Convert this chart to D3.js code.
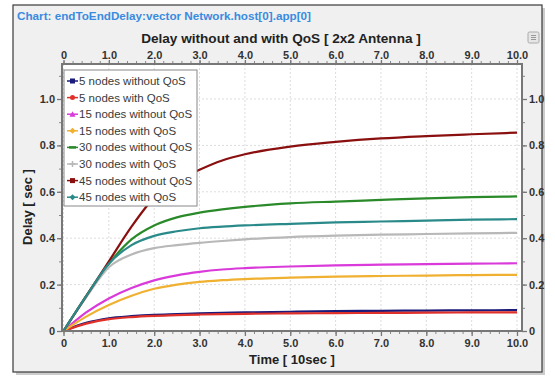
<!DOCTYPE html>
<html><head><meta charset="utf-8">
<script src="https://cdn.jsdelivr.net/npm/d3@7"></script>
<style>body{margin:0;background:#fff;}svg{display:block;font-family:"Liberation Sans",Arial,sans-serif;}</style>
</head><body><svg id="c" width="555" height="376"></svg>
<script>
const xs = [0,0.5,1,1.5,2,2.5,3,3.5,4,5,6,7,8,9,10];
const seriesNames = ["5 nodes without QoS","5 nodes with QoS","15 nodes without QoS","15 nodes with QoS","30 nodes without QoS","30 nodes with QoS","45 nodes without QoS","45 nodes with QoS"];
const seriesColors = ["#1a1a7a","#e0302a","#d93ad9","#f0b030","#2a8a2a","#b8b8b8","#8a1010","#2a8a8a"];
const seriesMarkers = ["square","circle","triangle","diamond","minus","plus","square","diamond"];
const n5without  = [0,0.035,0.055,0.064,0.07,0.073,0.076,0.078,0.08,0.083,0.086,0.087,0.088,0.089,0.09];
const n5with     = [0,0.032,0.051,0.06,0.065,0.068,0.071,0.073,0.074,0.076,0.077,0.078,0.079,0.08,0.08];
const n15without = [0,0.08,0.14,0.185,0.218,0.24,0.255,0.265,0.271,0.278,0.283,0.286,0.288,0.29,0.292];
const n15with    = [0,0.062,0.112,0.152,0.182,0.2,0.212,0.219,0.224,0.23,0.234,0.237,0.239,0.241,0.242];
const n30without = [0,0.15,0.29,0.395,0.455,0.49,0.51,0.524,0.535,0.55,0.558,0.565,0.572,0.577,0.58];
const n30with    = [0,0.145,0.275,0.33,0.357,0.37,0.38,0.388,0.395,0.405,0.411,0.415,0.418,0.421,0.423];
const n45without = [0,0.15,0.30,0.45,0.575,0.645,0.695,0.735,0.762,0.795,0.815,0.83,0.84,0.848,0.855];
const n45with    = [0,0.15,0.29,0.37,0.41,0.43,0.443,0.45,0.455,0.462,0.468,0.472,0.476,0.48,0.482];
const seriesValues = [n5without,n5with,n15without,n15with,n30without,n30with,n45without,n45with];
const xTicks = [0,1,2,3,4,5,6,7,8,9,10];
const xTickLabels = ["0","1.0","2.0","3.0","4.0","5.0","6.0","7.0","8.0","9.0","10.0"];
const yTicks = [0,0.2,0.4,0.6,0.8,1.0];
const yTickLabels = ["0","0.2","0.4","0.6","0.8","1.0"];
const panelTitle = "Chart: endToEndDelay:vector Network.host[0].app[0]";
const chartTitle = "Delay without and with QoS [ 2x2 Antenna ]";
const xTitle = "Time [ 10sec ]";
const yTitle = "Delay [ sec ]";

const svg = d3.select("#c");
// panel
svg.append("rect").attr("x",16).attr("y",8).attr("width",529).attr("height",367).attr("fill","#9a9a9a").attr("opacity",0.5);
svg.append("rect").attr("x",13).attr("y",5).attr("width",529).attr("height",367).attr("fill","#f0f0f0").attr("stroke","#3a3a3a").attr("stroke-width",1.2);
svg.append("text").attr("x",17).attr("y",20).attr("font-size",11.7).attr("font-weight","bold").attr("fill","#3a8be0").text(panelTitle);
svg.append("text").attr("x",281).attr("y",43).attr("text-anchor","middle").attr("font-size",13.6).attr("font-weight","bold").attr("fill","#222").text(chartTitle);
// icon
const ic = svg.append("g");
ic.append("rect").attr("x",528).attr("y",32).attr("width",11).attr("height",11).attr("fill","#e6e6e6").attr("stroke","#aaa").attr("rx",1.5);
[35.5,37.5,39.5].forEach(yy=>ic.append("line").attr("x1",531).attr("x2",536).attr("y1",yy).attr("y2",yy).attr("stroke","#999"));

const L=62,R=522,T=64,B=331;
const x = d3.scaleLinear().domain([0,10]).range([63.5,517]);
const y = d3.scaleLinear().domain([0,1]).range([331,99]);

svg.append("rect").attr("x",L).attr("y",T).attr("width",R-L).attr("height",B-T).attr("fill","#fff");
// grid
const g = svg.append("g");
xTicks.forEach(t=>g.append("line").attr("x1",x(t)).attr("x2",x(t)).attr("y1",T).attr("y2",B).attr("stroke","#dcdcdc").attr("stroke-dasharray","2,2"));
yTicks.forEach(t=>g.append("line").attr("x1",L).attr("x2",R).attr("y1",y(t)).attr("y2",y(t)).attr("stroke","#dcdcdc").attr("stroke-dasharray","2,2"));

// lines
const line = d3.line().x((d,i)=>x(xs[i])).y(d=>y(d)).curve(d3.curveMonotoneX);
seriesValues.forEach((vals,i)=>{
  svg.append("path").datum(vals).attr("d",line).attr("fill","none").attr("stroke",seriesColors[i]).attr("stroke-width",2.2);
});

// axes
const minorX = d3.range(0,10.01,0.2);
const minorY = d3.range(0,1.151,0.1);
function styleAxis(sel){
  sel.select(".domain").remove();
  sel.selectAll(".tick line").attr("stroke","#777").attr("stroke-width",1.3);
  sel.selectAll(".tick text").attr("font-size",11).attr("font-weight","bold").attr("fill","#333").attr("font-family","'Liberation Sans',Arial,sans-serif");
}
function minor(sel){ sel.select(".domain").remove(); sel.selectAll("text").remove(); sel.selectAll(".tick line").attr("stroke","#888").attr("stroke-width",1); }
svg.append("g").attr("transform",`translate(0,${B})`).call(d3.axisBottom(x).tickValues(minorX).tickSize(3)).call(minor);
svg.append("g").attr("transform",`translate(0,${T})`).call(d3.axisTop(x).tickValues(minorX).tickSize(3)).call(minor);
svg.append("g").attr("transform",`translate(${L},0)`).call(d3.axisLeft(y).tickValues(minorY).tickSize(3)).call(minor);
svg.append("g").attr("transform",`translate(${R},0)`).call(d3.axisRight(y).tickValues(minorY).tickSize(3)).call(minor);
svg.append("g").attr("transform",`translate(0,${B})`).call(d3.axisBottom(x).tickValues(xTicks).tickFormat((d,i)=>xTickLabels[i]).tickSize(5).tickPadding(3)).call(styleAxis);
svg.append("g").attr("transform",`translate(0,${T})`).call(d3.axisTop(x).tickValues(xTicks).tickFormat((d,i)=>xTickLabels[i]).tickSize(4).tickPadding(1)).call(styleAxis);
svg.append("g").attr("transform",`translate(${L},0)`).call(d3.axisLeft(y).tickValues(yTicks).tickFormat((d,i)=>yTickLabels[i]).tickSize(5).tickPadding(2)).call(styleAxis);
svg.append("g").attr("transform",`translate(${R},0)`).call(d3.axisRight(y).tickValues(yTicks).tickFormat((d,i)=>yTickLabels[i]).tickSize(5).tickPadding(2)).call(styleAxis);
svg.append("rect").attr("x",L).attr("y",T).attr("width",R-L).attr("height",B-T).attr("fill","none").attr("stroke","#777").attr("stroke-width",2);

svg.append("text").attr("x",292).attr("y",364).attr("text-anchor","middle").attr("font-size",13).attr("font-weight","bold").attr("fill","#222").text(xTitle);
svg.append("text").attr("transform","translate(32,207) rotate(-90)").attr("text-anchor","middle").attr("font-size",13).attr("font-weight","bold").attr("fill","#222").text(yTitle);

// legend
const lg = svg.append("g");
lg.append("rect").attr("x",64).attr("y",70).attr("width",133).attr("height",136).attr("fill","#fff").attr("stroke","#888");
seriesNames.forEach((name,i)=>{
  const cy = 81 + i*16.6;
  const c = seriesColors[i];
  lg.append("line").attr("x1",67).attr("x2",78).attr("y1",cy).attr("y2",cy).attr("stroke",c).attr("stroke-width",1.5);
  const m = seriesMarkers[i];
  if(m==="square") lg.append("rect").attr("x",70).attr("y",cy-2.5).attr("width",5).attr("height",5).attr("fill",c);
  else if(m==="circle") lg.append("circle").attr("cx",72.5).attr("cy",cy).attr("r",2.5).attr("fill",c);
  else if(m==="triangle") lg.append("path").attr("d",`M69.5,${cy+2.5}L72.5,${cy-3}L75.5,${cy+2.5}Z`).attr("fill",c);
  else if(m==="diamond") lg.append("path").attr("d",`M72.5,${cy-3}L75.5,${cy}L72.5,${cy+3}L69.5,${cy}Z`).attr("fill",c);
  else if(m==="plus") lg.append("path").attr("d",`M72.5,${cy-3}V${cy+3}M69.5,${cy}H75.5`).attr("stroke",c).attr("stroke-width",1.5);
  else if(m==="minus") lg.append("line").attr("x1",69).attr("x2",76).attr("y1",cy).attr("y2",cy).attr("stroke",c).attr("stroke-width",2.5);
  lg.append("text").attr("x",79).attr("y",cy+4).attr("font-size",11.5).attr("fill","#3a3a3a").text(name);
});
</script></body></html>
